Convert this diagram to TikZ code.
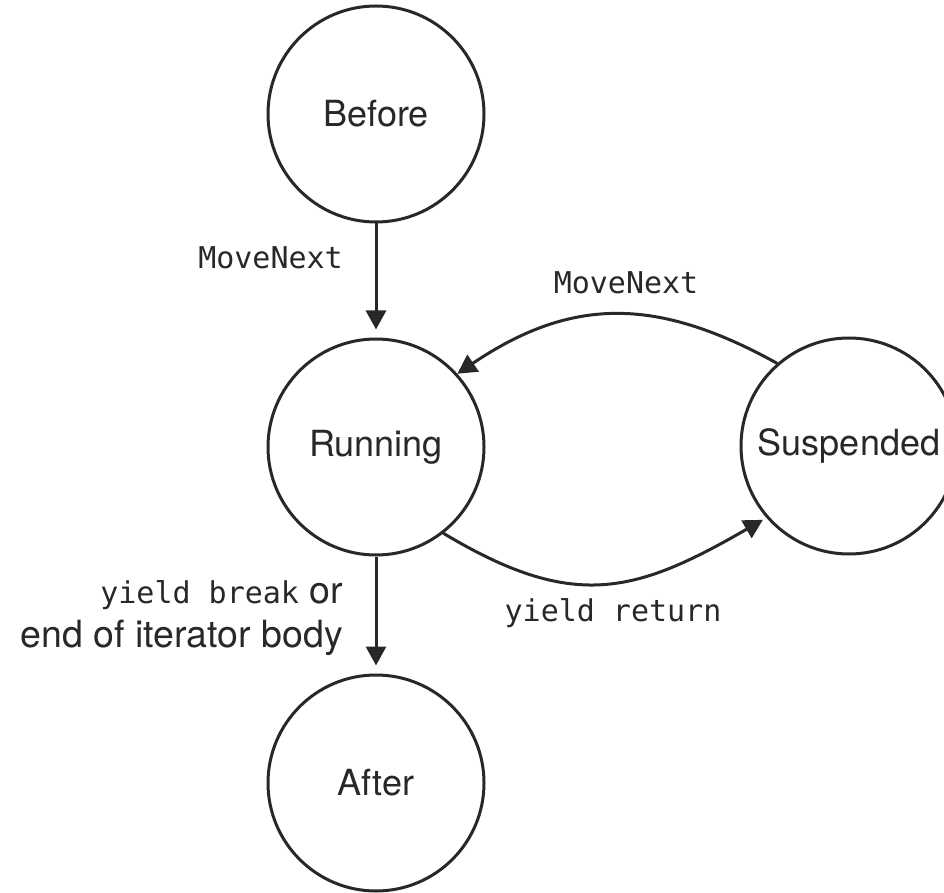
\documentclass[tikz,border=0pt]{standalone}
\usepackage{fontspec}
\setmainfont{TeX Gyre Heros}
\newfontfamily\codefont{DejaVu Sans Mono}
\usetikzlibrary{arrows.meta}
\definecolor{ink}{RGB}{40,40,40}
\begin{document}
\begin{tikzpicture}[x=1pt,y=1pt,
  state/.style={circle,draw=ink,line width=3pt,inner sep=0pt,
    minimum size=216pt,font=\fontsize{36}{43}\selectfont,text=ink},
  trans/.style={draw=ink,line width=3pt,
    -{Triangle[length=19pt,width=20pt]}},
  lbl/.style={text=ink,font=\fontsize{30}{43}\codefont,inner sep=0pt},
  sanslbl/.style={text=ink,font=\fontsize{37.5}{44}\selectfont,inner sep=0pt}]
\useasboundingbox (0,0) rectangle (944,892);

% states
\node[state] (before) at (376,778) {Before};
\node[state] (running) at (376,445) {Running};
\node[state] (suspended) at (849,446) {Suspended};
\node[state] (after) at (376,109) {After};

% transitions
\draw[trans,shorten >=8pt] (before) -- (running);
\draw[trans,shorten >=8pt] (running) -- (after);
\draw[trans] (suspended.131) to[out=151,in=34,looseness=1.1] (running.42);
\draw[trans,shorten >=4pt] (running.-52) to[out=-31,in=210,looseness=1.2] (suspended.221);

% labels
\node[lbl,anchor=east] (mn1) at (343,634) {MoveNext};
\node[lbl] (mn2) at (626,609) {MoveNext};
\node[lbl] (yr) at (613,279) {yield return};
\node[sanslbl,anchor=east,align=right] (yb) at (343,274)
  {{\codefont\fontsize{30}{44}\selectfont yield break} or\\end of iterator body};
\end{tikzpicture}
\end{document}
